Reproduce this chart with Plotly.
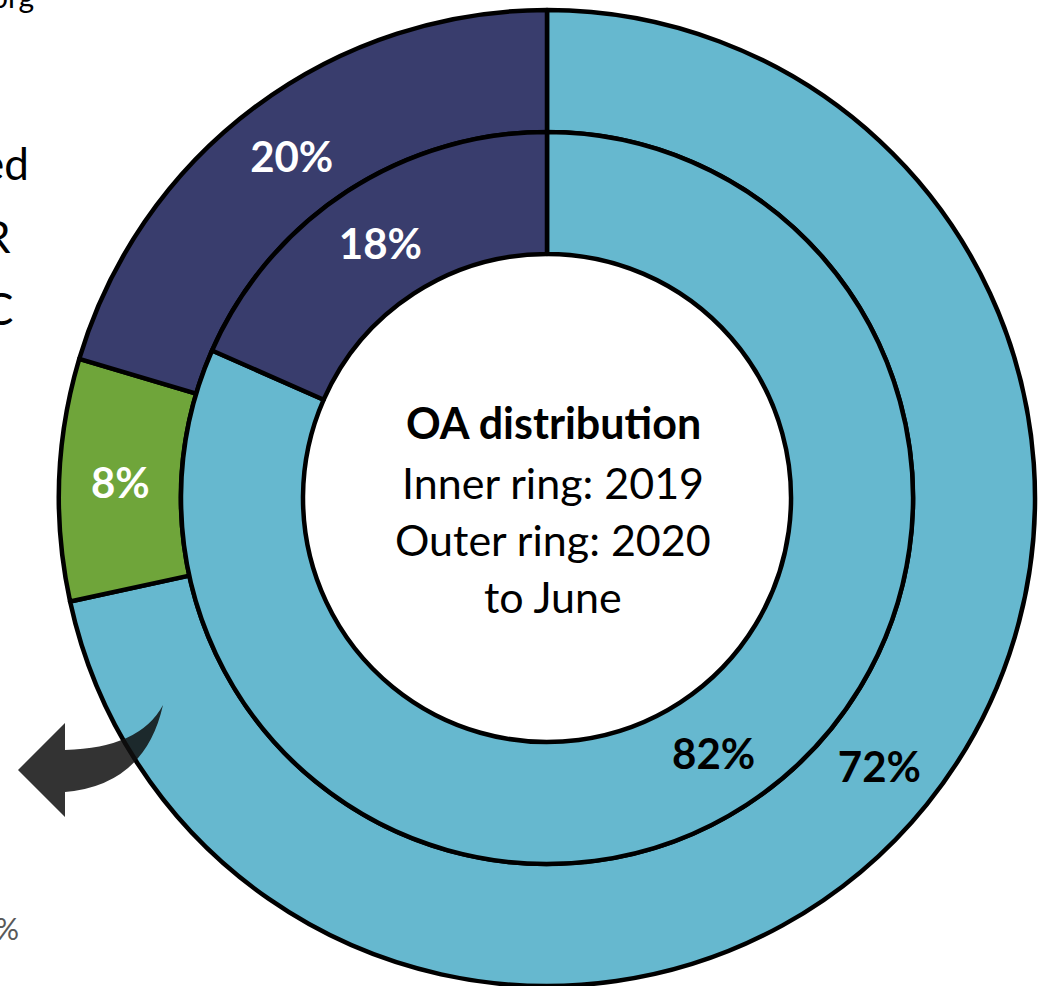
import plotly.graph_objects as go

# ---- data ----
categories_outer = ["Gold/Hybrid", "Green", "Bronze/Other"]
values_outer = [71.6, 8.0, 20.4]    # 2020 to June (outer ring), labels 72% / 8% / 20%
categories_inner = ["Gold/Hybrid", "Bronze/Other"]
values_inner = [81.6, 18.4]         # 2019 (inner ring), labels 82% / 18%

colors_outer = ["#66b8cf", "#6fa53a", "#393d6d"]
colors_inner = ["#66b8cf", "#393d6d"]
text_col_outer = ["black", "white", "white"]
text_col_inner = ["black", "white"]

center_lines = ["<b>OA distribution</b>", "Inner ring: 2019", "Outer ring: 2020", "to June"]

W, H = 1043, 986
CX, CY = 547, 498
R_OUT, R_MID, R_HOLE = 488, 366, 244


def dom(r):
    return dict(
        x=[(CX - r) / W, (CX + r) / W],
        y=[max(0, 1 - (CY + r) / H), min(1, 1 - (CY - r) / H)],
    )


FONT = "Lato, 'Open Sans', sans-serif"

fig = go.Figure()
fig.add_trace(go.Pie(
    labels=categories_outer, values=values_outer, sort=False,
    direction="clockwise", rotation=0, hole=R_MID / R_OUT,
    domain=dom(R_OUT),
    marker=dict(colors=colors_outer, line=dict(color="black", width=4.5)),
    texttemplate="%{percent:.0%}", textposition="inside", insidetextorientation="horizontal",
    textfont=dict(family=FONT, size=42, color=text_col_outer, weight="bold"),
    showlegend=False, hoverinfo="label+percent",
))
fig.add_trace(go.Pie(
    labels=categories_inner, values=values_inner, sort=False,
    direction="clockwise", rotation=0, hole=R_HOLE / R_MID,
    domain=dom(R_MID),
    marker=dict(colors=colors_inner, line=dict(color="black", width=4.5)),
    texttemplate="%{percent:.0%}", textposition="inside", insidetextorientation="horizontal",
    textfont=dict(family=FONT, size=42, color=text_col_inner, weight="bold"),
    showlegend=False, hoverinfo="label+percent",
))

annotations = []
ys = [422, 482, 539, 596]
for t, yy in zip(center_lines, ys):
    annotations.append(dict(
        text=t, x=553 / W, y=1 - yy / H, xref="paper", yref="paper",
        xanchor="center", yanchor="middle", showarrow=False,
        font=dict(family=FONT, size=43, color="black"),
    ))

# clipped fragments of neighbouring slide text at the left edge
frag = [("org", 36, -4, 30, "black"), ("ed", 31, 163, 44, "black"),
        ("R", 13, 236, 44, "black"), ("C", 15, 308, 44, "black"),
        ("%", 21, 928, 30, "#595959")]
for t, xr, yy, fs, c in frag:
    annotations.append(dict(
        text=t, x=xr / W, y=1 - yy / H, xref="paper", yref="paper",
        xanchor="right", yanchor="middle", showarrow=False,
        font=dict(family=FONT, size=fs, color=c),
    ))


# curved arrow decoration (pixel coordinates converted to paper)
def P(x, y):
    return f"{x / W:.5f},{1 - y / H:.5f}"


arrow_path = (
    f"M {P(18, 770)} L {P(65, 723)} L {P(65, 750)} "
    f"Q {P(140, 748)} {P(163, 705)} "
    f"Q {P(145, 785)} {P(65, 792)} "
    f"L {P(65, 817)} Z"
)
shapes = [dict(type="path", path=arrow_path, xref="paper", yref="paper",
               fillcolor="rgb(15,15,15)", opacity=0.85, line=dict(width=0),
               layer="above")]

fig.update_layout(
    width=W, height=H,
    margin=dict(l=0, r=0, t=0, b=0),
    paper_bgcolor="white", plot_bgcolor="white",
    annotations=annotations, shapes=shapes,
    font=dict(family=FONT),
)

fig.write_html("out.html", config={"displayModeBar": False},
               post_script="document.body.style.margin='0';")
